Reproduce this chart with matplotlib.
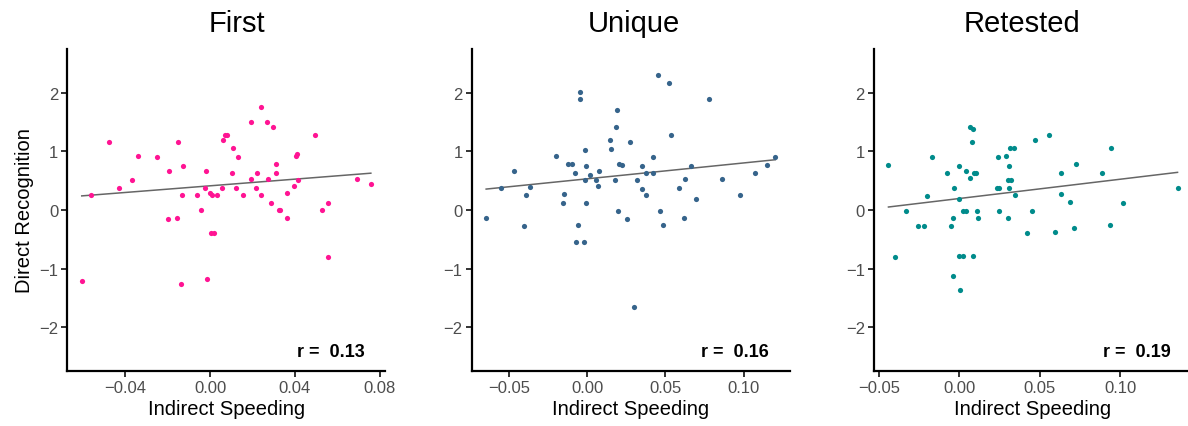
import numpy as np
import matplotlib.pyplot as plt

plt.rcParams['font.family'] = ['Liberation Sans', 'DejaVu Sans']

titles = ["First", "Unique", "Retested"]
colors = ["#FF1493", "#36648B", "#008B8B"]
r_labels = ["r =  0.13", "r =  0.16", "r =  0.19"]
xticks = [[-0.04, 0.00, 0.04, 0.08],
          [-0.05, 0.00, 0.05, 0.10],
          [-0.05, 0.00, 0.05, 0.10]]
yticks = [-2, -1, 0, 1, 2]

# First
first_x = [-0.0605, -0.0563, -0.0477, -0.0428, -0.0367, -0.0340, -0.0251, -0.0195,
           -0.0199, -0.0155, -0.0152, -0.0129, -0.0133, -0.0136, -0.0063, -0.0042,
           -0.0020, -0.0022, -0.0014, 0.0002, 0.0011, 0.0006, 0.0020, 0.0035,
           0.0058, 0.0060, 0.0069, 0.0080, 0.0107, 0.0102, 0.0130, 0.0122,
           0.0154, 0.0191, 0.0195, 0.0218, 0.0223, 0.0238, 0.0238, 0.0268,
           0.0273, 0.0289, 0.0296, 0.0309, 0.0309, 0.0325, 0.0329, 0.0361,
           0.0364, 0.0395, 0.0405, 0.0411, 0.0414, 0.0493, 0.0529, 0.0558,
           0.0558, 0.0693, 0.0758]
first_y = [-1.205, 0.249, 1.155, 0.374, 0.504, 0.917, 0.900, 0.668,
           -0.147, -0.136, 1.155, 0.758, 0.249, -1.268, 0.249, -0.006,
           0.662, 0.374, -1.172, 0.283, 0.249, -0.385, -0.385, 0.249,
           0.374, 1.188, 1.279, 1.279, 1.053, 0.628, 0.900, 0.368,
           0.249, 1.511, 0.538, 0.374, 0.628, 1.760, 0.249, 1.511,
           0.538, 0.119, 1.415, 0.792, 0.628, -0.006, -0.006, 0.283,
           -0.136, 0.413, 0.917, 0.951, 0.504, 1.279, -0.006, 0.125,
           -0.809, 0.538, 0.447]

# Unique
unique_x = [-0.0647, -0.0551, -0.0472, -0.0404, -0.0391, -0.0366, -0.0198, -0.0153,
            -0.0149, -0.0123, -0.0098, -0.0081, -0.0072, -0.0060, -0.0049, -0.0045,
            -0.0019, -0.0015, -0.0015, -0.0011, -0.0009, 0.0019, 0.0053, 0.0068,
            0.0077, 0.0147, 0.0151, 0.0179, 0.0185, 0.0189, 0.0198, 0.0204,
            0.0219, 0.0257, 0.0272, 0.0300, 0.0315, 0.0351, 0.0351, 0.0377,
            0.0377, 0.0417, 0.0417, 0.0449, 0.0466, 0.0481, 0.0525, 0.0536,
            0.0589, 0.0619, 0.0625, 0.0664, 0.0698, 0.0781, 0.0862, 0.0974,
            0.1072, 0.1151, 0.1202]
unique_y = [-0.136, 0.368, 0.668, -0.266, 0.249, 0.390, 0.917, 0.119,
            0.277, 0.787, 0.787, 0.628, -0.555, -0.260, 1.890, 2.020,
            -0.555, 1.030, 0.504, 0.758, 0.119, 0.600, 0.504, 0.413,
            0.668, 1.188, 1.047, 0.504, 1.415, 1.703, -0.011, 0.792,
            0.775, -0.158, 1.154, -1.653, 0.504, 0.758, 0.357, 0.640,
            0.249, 0.906, 0.640, 2.309, -0.011, -0.260, 2.162, 1.279,
            0.379, -0.136, 0.538, 0.758, 0.187, 1.890, 0.538, 0.249,
            0.628, 0.775, 0.906]

# Retested
retested_x = [-0.0441, -0.0398, -0.0333, -0.0259, -0.0219, -0.0199, -0.0168, -0.0075,
              -0.0054, -0.0041, -0.0037, -0.0033, -0.0004, -0.0002, 0.0000, 0.0002,
              0.0023, 0.0025, 0.0039, 0.0041, 0.0064, 0.0066, 0.0081, 0.0083,
              0.0085, 0.0093, 0.0106, 0.0110, 0.0118, 0.0232, 0.0242, 0.0244,
              0.0248, 0.0288, 0.0302, 0.0306, 0.0304, 0.0319, 0.0306, 0.0317,
              0.0340, 0.0344, 0.0420, 0.0451, 0.0468, 0.0555, 0.0596, 0.0629,
              0.0634, 0.0689, 0.0712, 0.0723, 0.0884, 0.0934, 0.0942, 0.1014,
              0.1356]
retested_y = [0.775, -0.809, -0.011, -0.266, -0.266, 0.243, 0.900, 0.640,
              -0.266, -0.141, -1.132, 0.379, 0.758, 0.181, -0.792, -1.358,
              -0.781, -0.011, -0.011, 0.668, 0.543, 1.415, 1.154, -0.781,
              1.381, 0.634, 0.640, -0.011, -0.136, 0.374, 0.900, -0.011,
              0.374, 0.917, -0.136, 0.758, 0.504, 0.504, 0.374, 1.053,
              1.053, 0.249, -0.385, -0.011, 1.188, 1.279, -0.368, 0.640,
              0.277, 0.141, -0.300, 0.792, 0.628, -0.260, 1.053, 0.125,
              0.379]

xs = [first_x, unique_x, retested_x]
ys = [first_y, unique_y, retested_y]

W, H = 1188, 427
fig = plt.figure(figsize=(W / 100, H / 100), dpi=100)

lefts = [67.3, 471.7, 874.0]
title_x = [237, 634, 1022]
ax_w, ax_bottom, ax_top = 318.0, 372.0, 50.0

for i in range(3):
    ax = fig.add_axes([lefts[i] / W, (H - ax_bottom) / H, ax_w / W, (ax_bottom - ax_top) / H])
    x = np.array(xs[i])
    y = np.array(ys[i])
    ax.scatter(x, y, s=14, color=colors[i], linewidths=0, zorder=3)

    slope, intercept = np.polyfit(x, y, 1)
    xl = np.array([x.min(), x.max()])
    ax.plot(xl, slope * xl + intercept, color="#666666", linewidth=1.1, zorder=2)

    rng = x.max() - x.min()
    ax.set_xlim(x.min() - 0.05 * rng, x.max() + 0.05 * rng)
    ax.set_ylim(-2.75, 2.75)
    ax.set_xticks(xticks[i])
    ax.set_xticklabels([f"{t:.2f}".replace("-", "\u2212") for t in xticks[i]])
    ax.set_yticks(yticks)
    ax.set_yticklabels([str(t).replace("-", "\u2212") for t in yticks])

    for side in ["top", "right"]:
        ax.spines[side].set_visible(False)
    for side in ["left", "bottom"]:
        ax.spines[side].set_linewidth(1.6)
        ax.spines[side].set_color("black")
    ax.tick_params(length=4, width=1.4, color="#333333", labelcolor="#4D4D4D",
                   labelsize=12, pad=2.5)

    ax.set_xlabel("Indirect Speeding", fontsize=14.5, labelpad=3)
    if i == 0:
        ax.set_ylabel("Direct Recognition", fontsize=14.5, labelpad=4)

    ax.text(0.934, 0.062, r_labels[i], transform=ax.transAxes, ha="right", va="center",
            fontsize=13, fontweight="bold")
    fig.text(title_x[i] / W, 1 - 23.5 / H, titles[i], ha="center", va="center", fontsize=21)

fig.savefig("out.png", dpi=100)
